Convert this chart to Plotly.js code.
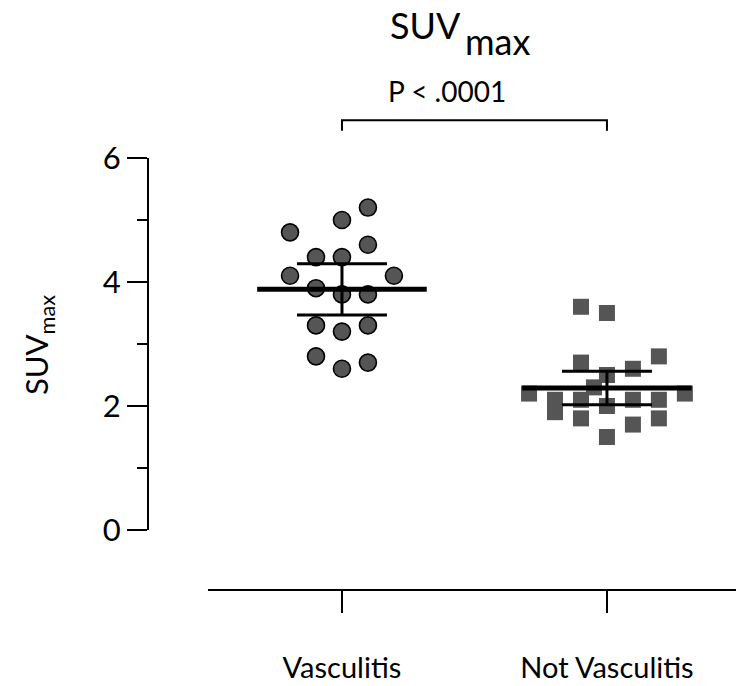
<!DOCTYPE html>
<html>
<head>
<meta charset="utf-8">
<script src="https://cdn.plot.ly/plotly-3.0.1.min.js"></script>
<style>html,body{margin:0;padding:0;background:#fff}#chart{width:736px;height:686px}</style>
</head>
<body>
<div id="chart"></div>
<script>
// ---- data ----
const categories = ["Vasculitis", "Not Vasculitis"];
const categoryPos = [1, 2];

// SUVmax values
const vasculitisValues = [4.8, 5.0, 5.2, 4.6, 4.4, 4.4, 4.1, 4.1, 3.9, 3.8, 3.8, 3.3, 3.2, 3.3, 2.8, 2.6, 2.7];
// horizontal scatter slots of each point (beeswarm columns)
const vasculitisSlots = [-2, 0, 1, 1, -1, 0, -2, 2, -1, 0, 1, -1, 0, 1, -1, 0, 1];

const notVasculitisValues = [3.6, 3.5, 2.8, 2.7, 2.6, 2.5, 2.3, 2.2, 2.1, 1.9, 2.1, 1.8, 2.0, 1.5, 2.1, 1.7, 2.1, 1.8, 2.2];
const notVasculitisSlots = [-1, 0, 2, -1, 1, 0, -0.5, -3, -2, -2, -1, -1, 0, 0, 1, 1, 2, 2, 3];

const yTickVals = [0, 2, 4, 6];
const pText = "P < .0001";

// ---- style constants ----
const SLOT = 0.098;       // x-units per swarm column
const MEAN_HALF = 0.32;   // half-width of mean line, x-units
const FONT = "Lato, 'Open Sans', sans-serif";
const GREY = "#555555";

// ---- stats: mean and 95% CI ----
const tCrit = {16: 2.120, 18: 2.101};
function stats(v) {
  const n = v.length;
  const m = v.reduce((a, b) => a + b, 0) / n;
  const sd = Math.sqrt(v.reduce((a, b) => a + (b - m) * (b - m), 0) / (n - 1));
  const t = tCrit[n - 1] || 2.1;
  return {mean: m, ci: t * sd / Math.sqrt(n)};
}
const s1 = stats(vasculitisValues);
const s2 = stats(notVasculitisValues);

const traces = [
  {
    type: "scatter", mode: "markers", name: categories[0],
    x: vasculitisSlots.map(s => categoryPos[0] + s * SLOT),
    y: vasculitisValues,
    marker: {symbol: "circle", size: 17, color: GREY, line: {color: "#000", width: 1.6}},
    cliponaxis: false
  },
  {
    type: "scatter", mode: "markers", name: categories[1],
    x: notVasculitisSlots.map(s => categoryPos[1] + s * SLOT),
    y: notVasculitisValues,
    marker: {symbol: "square", size: 16, color: GREY, line: {width: 0}},
    cliponaxis: false
  },
  // mean lines
  {
    type: "scatter", mode: "lines",
    x: [categoryPos[0] - MEAN_HALF, categoryPos[0] + MEAN_HALF],
    y: [s1.mean, s1.mean],
    line: {color: "#000", width: 5}, hoverinfo: "skip"
  },
  {
    type: "scatter", mode: "lines",
    x: [categoryPos[1] - MEAN_HALF, categoryPos[1] + MEAN_HALF],
    y: [s2.mean, s2.mean],
    line: {color: "#000", width: 5}, hoverinfo: "skip"
  },
  // 95% CI error bars
  {
    type: "scatter", mode: "markers",
    x: categoryPos,
    y: [s1.mean, s2.mean],
    marker: {size: 1, color: "rgba(0,0,0,0)"},
    error_y: {type: "data", array: [s1.ci, s2.ci], symmetric: true, color: "#000", thickness: 3, width: 45},
    hoverinfo: "skip"
  }
];

const layout = {
  width: 736, height: 686,
  margin: {l: 148, r: 0, t: 100, b: 96},
  paper_bgcolor: "#fff", plot_bgcolor: "#fff",
  showlegend: false,
  font: {family: FONT, color: "#000"},
  xaxis: {
    range: [0.268, 2.487],
    tickvals: categoryPos, ticktext: categories,
    ticks: "outside", ticklen: 22, tickwidth: 2, tickcolor: "#000",
    ticklabelstandoff: 30,
    tickfont: {family: FONT, size: 29, color: "#000"},
    showgrid: false, zeroline: false, showline: false
  },
  yaxis: {
    range: [-0.968, 6.935],
    tickvals: yTickVals,
    ticks: "outside", ticklen: 20, tickwidth: 2, tickcolor: "#000",
    minor: {dtick: 1, tick0: 0, ticks: "outside", ticklen: 10, tickwidth: 2, tickcolor: "#000", showgrid: false},
    tickfont: {family: FONT, size: 31, color: "#000"},
    showgrid: false, zeroline: false, showline: false,
    title: {text: "SUV<sub>max</sub>", font: {family: FONT, size: 31, color: "#000"}, standoff: 44}
  },
  shapes: [
    // y axis line (0..6)
    {type: "line", xref: "paper", yref: "y", x0: 0, x1: 0, y0: 0, y1: 6, line: {color: "#000", width: 2}},
    // detached x axis line
    {type: "line", xref: "paper", yref: "paper", x0: 0.102, x1: 1, y0: 0, y1: 0, line: {color: "#000", width: 2}},
    // significance bracket
    {type: "path", xref: "x", yref: "y",
     path: `M ${categoryPos[0]},6.44 L ${categoryPos[0]},6.61 L ${categoryPos[1]},6.61 L ${categoryPos[1]},6.44`,
     line: {color: "#000", width: 2}}
  ],
  annotations: [
    {text: "SUV", xref: "paper", yref: "paper", x: 0.536, y: 1.153, xanchor: "right", yanchor: "middle",
     showarrow: false, font: {family: FONT, size: 36, color: "#000"}},
    {text: "max", xref: "paper", yref: "paper", x: 0.536, y: 1.120, xanchor: "left", yanchor: "middle",
     showarrow: false, font: {family: FONT, size: 36, color: "#000"}},
    {text: pText, xref: "x", yref: "paper", x: 1.396, y: 1.018, xanchor: "center", yanchor: "middle",
     showarrow: false, font: {family: FONT, size: 28, color: "#000"}}
  ]
};

Plotly.newPlot("chart", traces, layout, {staticPlot: true, displayModeBar: false});
</script>
</body>
</html>
